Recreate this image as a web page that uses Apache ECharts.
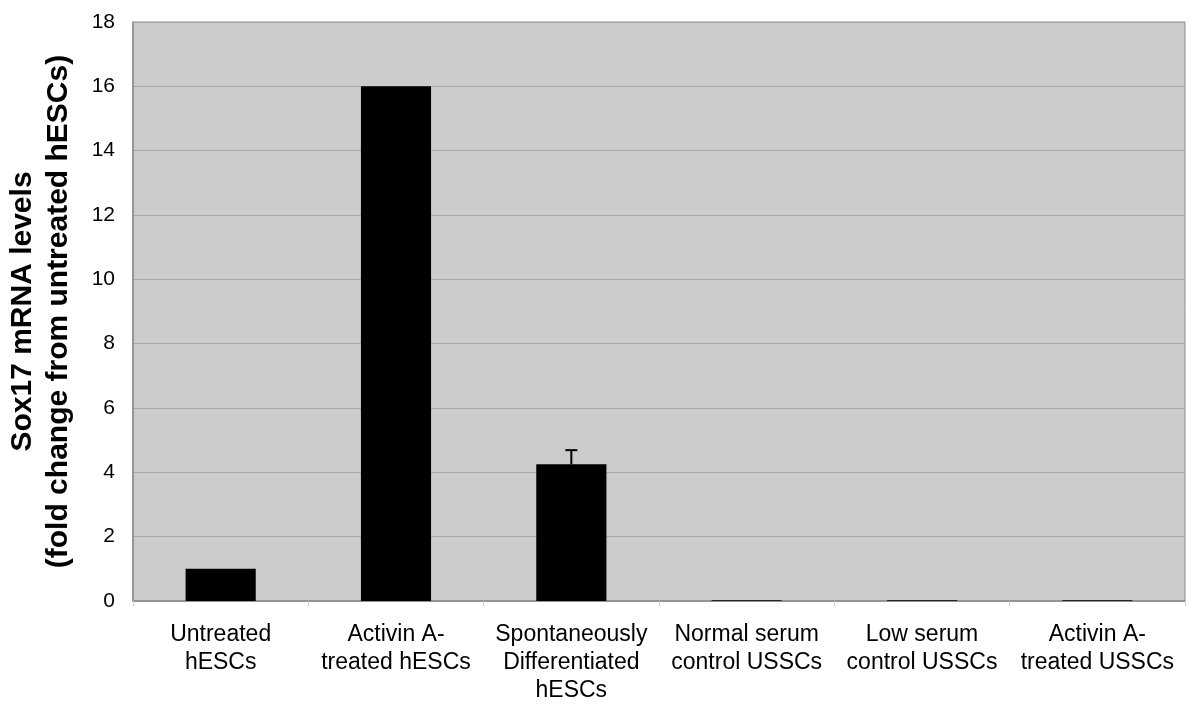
<!DOCTYPE html>
<html><head><meta charset="utf-8">
<script src="https://cdn.jsdelivr.net/npm/echarts@6/dist/echarts.min.js"></script>
<style>html,body{margin:0;padding:0;background:#fff}#c{width:1200px;height:718px}</style>
</head><body><div id="c"></div>
<script>
const categories = ['Untreated\nhESCs', 'Activin A-\ntreated hESCs', 'Spontaneously\nDifferentiated\nhESCs', 'Normal serum\ncontrol USSCs', 'Low serum\ncontrol USSCs', 'Activin A-\ntreated USSCs'];
const values = [1.0, 16.0, 4.25, 0.02, 0.02, 0.02];
const errors = [0, 0, 0.44, 0, 0, 0];
const yTicks = [0, 2, 4, 6, 8, 10, 12, 14, 16, 18];

const chart = echarts.init(document.getElementById('c'));
const font = '"Liberation Sans", Arial, sans-serif';
chart.setOption({
  animation: false,
  grid: { left: 133, right: 15, top: 22, bottom: 117, outerBoundsMode: 'none', containLabel: false, show: true, backgroundColor: '#cccccc', borderColor: '#8c8c8c', borderWidth: 1 },
  xAxis: {
    type: 'category', data: categories,
    axisLine: { lineStyle: { color: '#8c8c8c', width: 1.5 } },
    axisTick: { show: true, length: 5, lineStyle: { color: '#d0d0d0' } },
    axisLabel: { color: '#000', fontFamily: font, fontSize: 23, lineHeight: 28, margin: 20, interval: 0 }
  },
  yAxis: {
    type: 'value', min: yTicks[0], max: yTicks[yTicks.length - 1], interval: 2,
    name: 'Sox17 mRNA levels\n(fold change from untreated hESCs)',
    nameLocation: 'middle', nameRotate: 90, nameGap: 56,
    nameTextStyle: { color: '#000', fontFamily: font, fontSize: 30, fontWeight: 'bold', lineHeight: 36 },
    axisLine: { show: true, lineStyle: { color: '#8c8c8c', width: 1.5 } },
    axisTick: { show: false },
    axisLabel: { color: '#000', fontFamily: font, fontSize: 21, margin: 18 },
    splitLine: { lineStyle: { color: '#a6a6a6', width: 1 } }
  },
  series: [
    { type: 'bar', data: values, barWidth: '40%', itemStyle: { color: '#000' } },
    {
      type: 'custom', data: values.map((v, i) => [i, v, v + errors[i], errors[i]]),
      renderItem: function (params, api) {
        if (api.value(3) <= 0) return null;
        const p0 = api.coord([api.value(0), api.value(1)]);
        const p1 = api.coord([api.value(0), api.value(2)]);
        const style = { stroke: '#000', lineWidth: 2 };
        return { type: 'group', children: [
          { type: 'line', shape: { x1: p0[0], y1: p0[1], x2: p1[0], y2: p1[1] }, style: style },
          { type: 'line', shape: { x1: p1[0] - 6, y1: p1[1], x2: p1[0] + 6, y2: p1[1] }, style: style }
        ] };
      },
      z: 3
    }
  ]
});
</script></body></html>
